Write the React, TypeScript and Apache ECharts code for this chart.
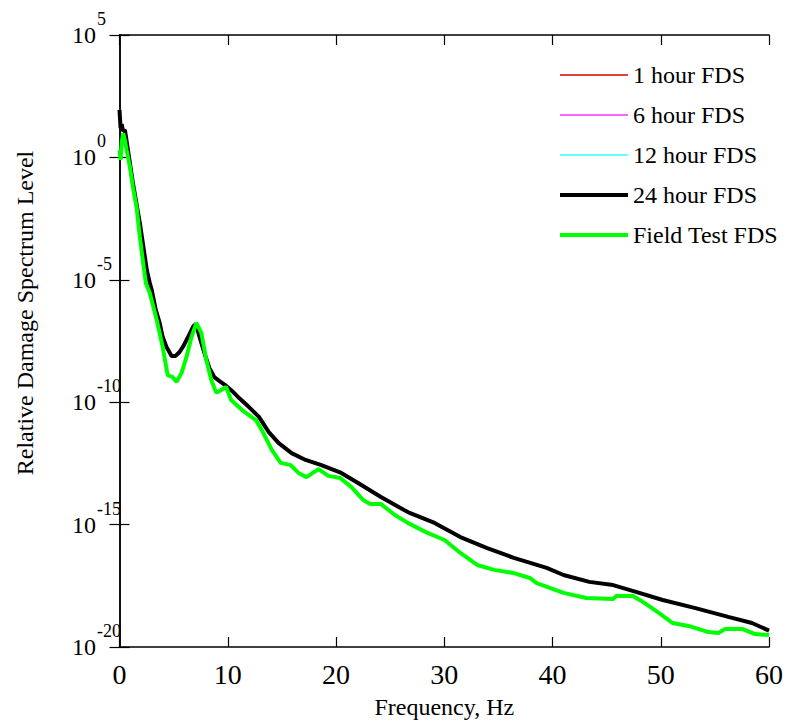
import React, { useEffect, useRef } from "react";
import * as echarts from "echarts";

// Fatigue damage spectra: frequency (Hz) and log10 of the relative damage level.
const modelFreq = [
  0, 0.1, 0.2, 0.32, 0.5, 0.78, 1.24, 1.88, 2.25, 2.52, 2.8, 2.98, 3.35, 3.71, 3.99, 4.35,
  4.81, 5.18, 5.55, 5.91, 6.37, 6.83, 7.06, 7.29, 7.56, 7.93, 8.3, 8.75, 9.21, 9.76, 10.4,
  11.05, 11.96, 12.88, 13.79, 14.71, 15.9, 17.19, 18.65, 20.49, 22.04, 24.15, 26.63, 29.1,
  31.49, 33.96, 36.43, 39.46, 41.02, 43.4, 45.6, 47.71, 50.18, 53.21, 56.23, 58.43, 60,
];
const modelLog10 = [
  1.94, 1.2, 1.36, 1.08, 1.12, 0.3, -1.05, -2.68, -3.78, -4.6, -5.13, -5.42, -6.23, -6.76,
  -7.34, -7.75, -8.11, -8.11, -7.95, -7.7, -7.3, -6.89, -6.81, -7.17, -7.58, -8.11, -8.6,
  -8.97, -9.13, -9.3, -9.54, -9.83, -10.2, -10.6, -11.22, -11.67, -12.08, -12.36, -12.57,
  -12.89, -13.3, -13.87, -14.49, -14.93, -15.51, -15.96, -16.36, -16.77, -17.06, -17.34,
  -17.47, -17.75, -18.08, -18.41, -18.77, -19.02, -19.33,
];

const fieldFreq = [
  0, 0.1, 0.2, 0.35, 0.5, 0.66, 0.96, 1.24, 1.58, 1.88, 2.15, 2.43, 2.8, 3.44, 3.99, 4.45,
  4.9, 5.27, 5.73, 6.19, 6.65, 7.1, 7.56, 8.02, 8.48, 8.94, 9.4, 9.85, 10.31, 11.32, 12.6,
  13.15, 14.07, 14.89, 15.81, 16.54, 17.28, 18.38, 19.29, 20.39, 21.4, 22.5, 23.14, 24.15,
  25.44, 26.63, 28.46, 30.02, 31.49, 33.04, 34.6, 36.43, 37.9, 38.54, 41.02, 43.13, 45.6,
  45.88, 47.43, 48.35, 49.82, 51.1, 52.56, 54.4, 55.32, 55.96, 57.52, 58.71, 60,
];
const fieldLog10 = [
  0.3, -0.1, 0.6, 0.98, 0.7, 0.3, -0.39, -1.21, -2.03, -3.25, -4.19, -5.13, -5.54, -6.64,
  -7.75, -8.89, -8.97, -9.17, -8.81, -8.15, -7.34, -6.76, -7.17, -8.28, -9.09, -9.62, -9.5,
  -9.38, -9.91, -10.32, -10.73, -11.14, -11.95, -12.48, -12.57, -12.89, -13.06, -12.73,
  -13.01, -13.1, -13.46, -13.99, -14.16, -14.16, -14.61, -14.93, -15.34, -15.63, -16.16,
  -16.65, -16.85, -16.98, -17.18, -17.39, -17.79, -18.0, -18.04, -17.92, -17.92, -18.16,
  -18.61, -19.02, -19.14, -19.39, -19.43, -19.26, -19.26, -19.47, -19.51,
];

// The 1, 6, 12 and 24 hour model spectra coincide; the 24 hour one is drawn on top.
const modelSeries = [
  { name: "1 hour FDS", color: "#d40000", width: 1.5 },
  { name: "6 hour FDS", color: "#ff33ff", width: 1.5 },
  { name: "12 hour FDS", color: "#33ffff", width: 1.5 },
  { name: "24 hour FDS", color: "#000000", width: 4 },
];
const fieldSeries = { name: "Field Test FDS", color: "#00ff00", width: 4 };

const xTicks = { min: 0, max: 60, interval: 10 };
const yExpRange = { min: -20, max: 5, interval: 5 };

const FONT = "'Liberation Serif', 'Times New Roman', serif";

const toPoints = (freq: number[], lg: number[]) =>
  freq.map((f, i) => [f, Math.pow(10, lg[i])]);

export default function App() {
  const ref = useRef<HTMLDivElement>(null);

  useEffect(() => {
    if (!ref.current) return;
    const chart = echarts.init(ref.current, undefined, { renderer: "svg" });

    const axisLine = { show: true, lineStyle: { color: "#000", width: 1.5 } };
    const tickStyle = { show: true, inside: true, length: 10, lineStyle: { color: "#000", width: 1.2 } };
    const allSeries = [...modelSeries, fieldSeries];

    const series: any[] = modelSeries.map((s) => ({
      name: s.name,
      type: "line",
      data: toPoints(modelFreq, modelLog10),
      symbol: "none",
      showSymbol: false,
      lineStyle: { color: s.color, width: s.width },
      itemStyle: { color: s.color },
    }));
    series.push({
      name: fieldSeries.name,
      type: "line",
      data: toPoints(fieldFreq, fieldLog10),
      symbol: "none",
      showSymbol: false,
      lineStyle: { color: fieldSeries.color, width: fieldSeries.width },
      itemStyle: { color: fieldSeries.color },
    });

    chart.setOption({
      animation: false,
      backgroundColor: "#fff",
      grid: { left: 119.5, right: 12.5, top: 35, bottom: 78, containLabel: false },
      legend: {
        orient: "vertical",
        left: 553,
        top: 57,
        itemWidth: 68,
        itemHeight: 14,
        itemGap: 14,
        // line-only keys: the marker on each key is made invisible
        itemStyle: { color: "transparent", borderColor: "transparent", borderWidth: 0, opacity: 0 },
        textStyle: { fontFamily: FONT, fontSize: 24, color: "#000", lineHeight: 26 },
        data: allSeries.map((s) => ({
          name: s.name,
          lineStyle: { color: s.color, width: s.width },
        })),
      },
      xAxis: [
        {
          type: "value",
          min: xTicks.min,
          max: xTicks.max,
          interval: xTicks.interval,
          axisLine,
          axisTick: tickStyle,
          splitLine: { show: false },
          axisLabel: { fontFamily: FONT, fontSize: 28, color: "#000", margin: 13 },
          name: "Frequency, Hz",
          nameLocation: "middle",
          nameGap: 48,
          nameTextStyle: { fontFamily: FONT, fontSize: 24, color: "#000" },
        },
        {
          type: "value",
          position: "top",
          min: xTicks.min,
          max: xTicks.max,
          interval: xTicks.interval,
          axisLine,
          axisTick: tickStyle,
          splitLine: { show: false },
          axisLabel: { show: false },
        },
      ],
      yAxis: [
        {
          type: "log",
          logBase: 10,
          min: Math.pow(10, yExpRange.min),
          max: Math.pow(10, yExpRange.max),
          interval: yExpRange.interval,
          axisLine,
          axisTick: tickStyle,
          minorTick: { show: false },
          splitLine: { show: false },
          axisLabel: {
            align: "left",
            margin: 47.5,
            formatter: (v: number) => `{b|10}{e|${Math.round(Math.log10(v))}}`,
            rich: {
              b: { fontFamily: FONT, fontSize: 24, lineHeight: 56, color: "#000" },
              e: { fontFamily: FONT, fontSize: 18, lineHeight: 18, color: "#000", verticalAlign: "top", padding: [3, 0, 0, 1] },
            },
          },
        },
        {
          type: "log",
          logBase: 10,
          position: "right",
          min: Math.pow(10, yExpRange.min),
          max: Math.pow(10, yExpRange.max),
          interval: yExpRange.interval,
          axisLine,
          axisTick: tickStyle,
          splitLine: { show: false },
          axisLabel: { show: false },
        },
      ],
      graphic: [
        {
          type: "text",
          x: 25,
          y: 313,
          rotation: Math.PI / 2,
          style: {
            text: "Relative Damage Spectrum Level",
            fontFamily: FONT,
            fontSize: 24,
            fill: "#000",
            align: "center",
            verticalAlign: "middle",
          },
        },
      ],
      series,
    });

    return () => chart.dispose();
  }, []);

  return (
    <div
      ref={ref}
      style={{ position: "fixed", left: 0, top: 0, width: 786, height: 725, background: "#fff" }}
    />
  );
}
